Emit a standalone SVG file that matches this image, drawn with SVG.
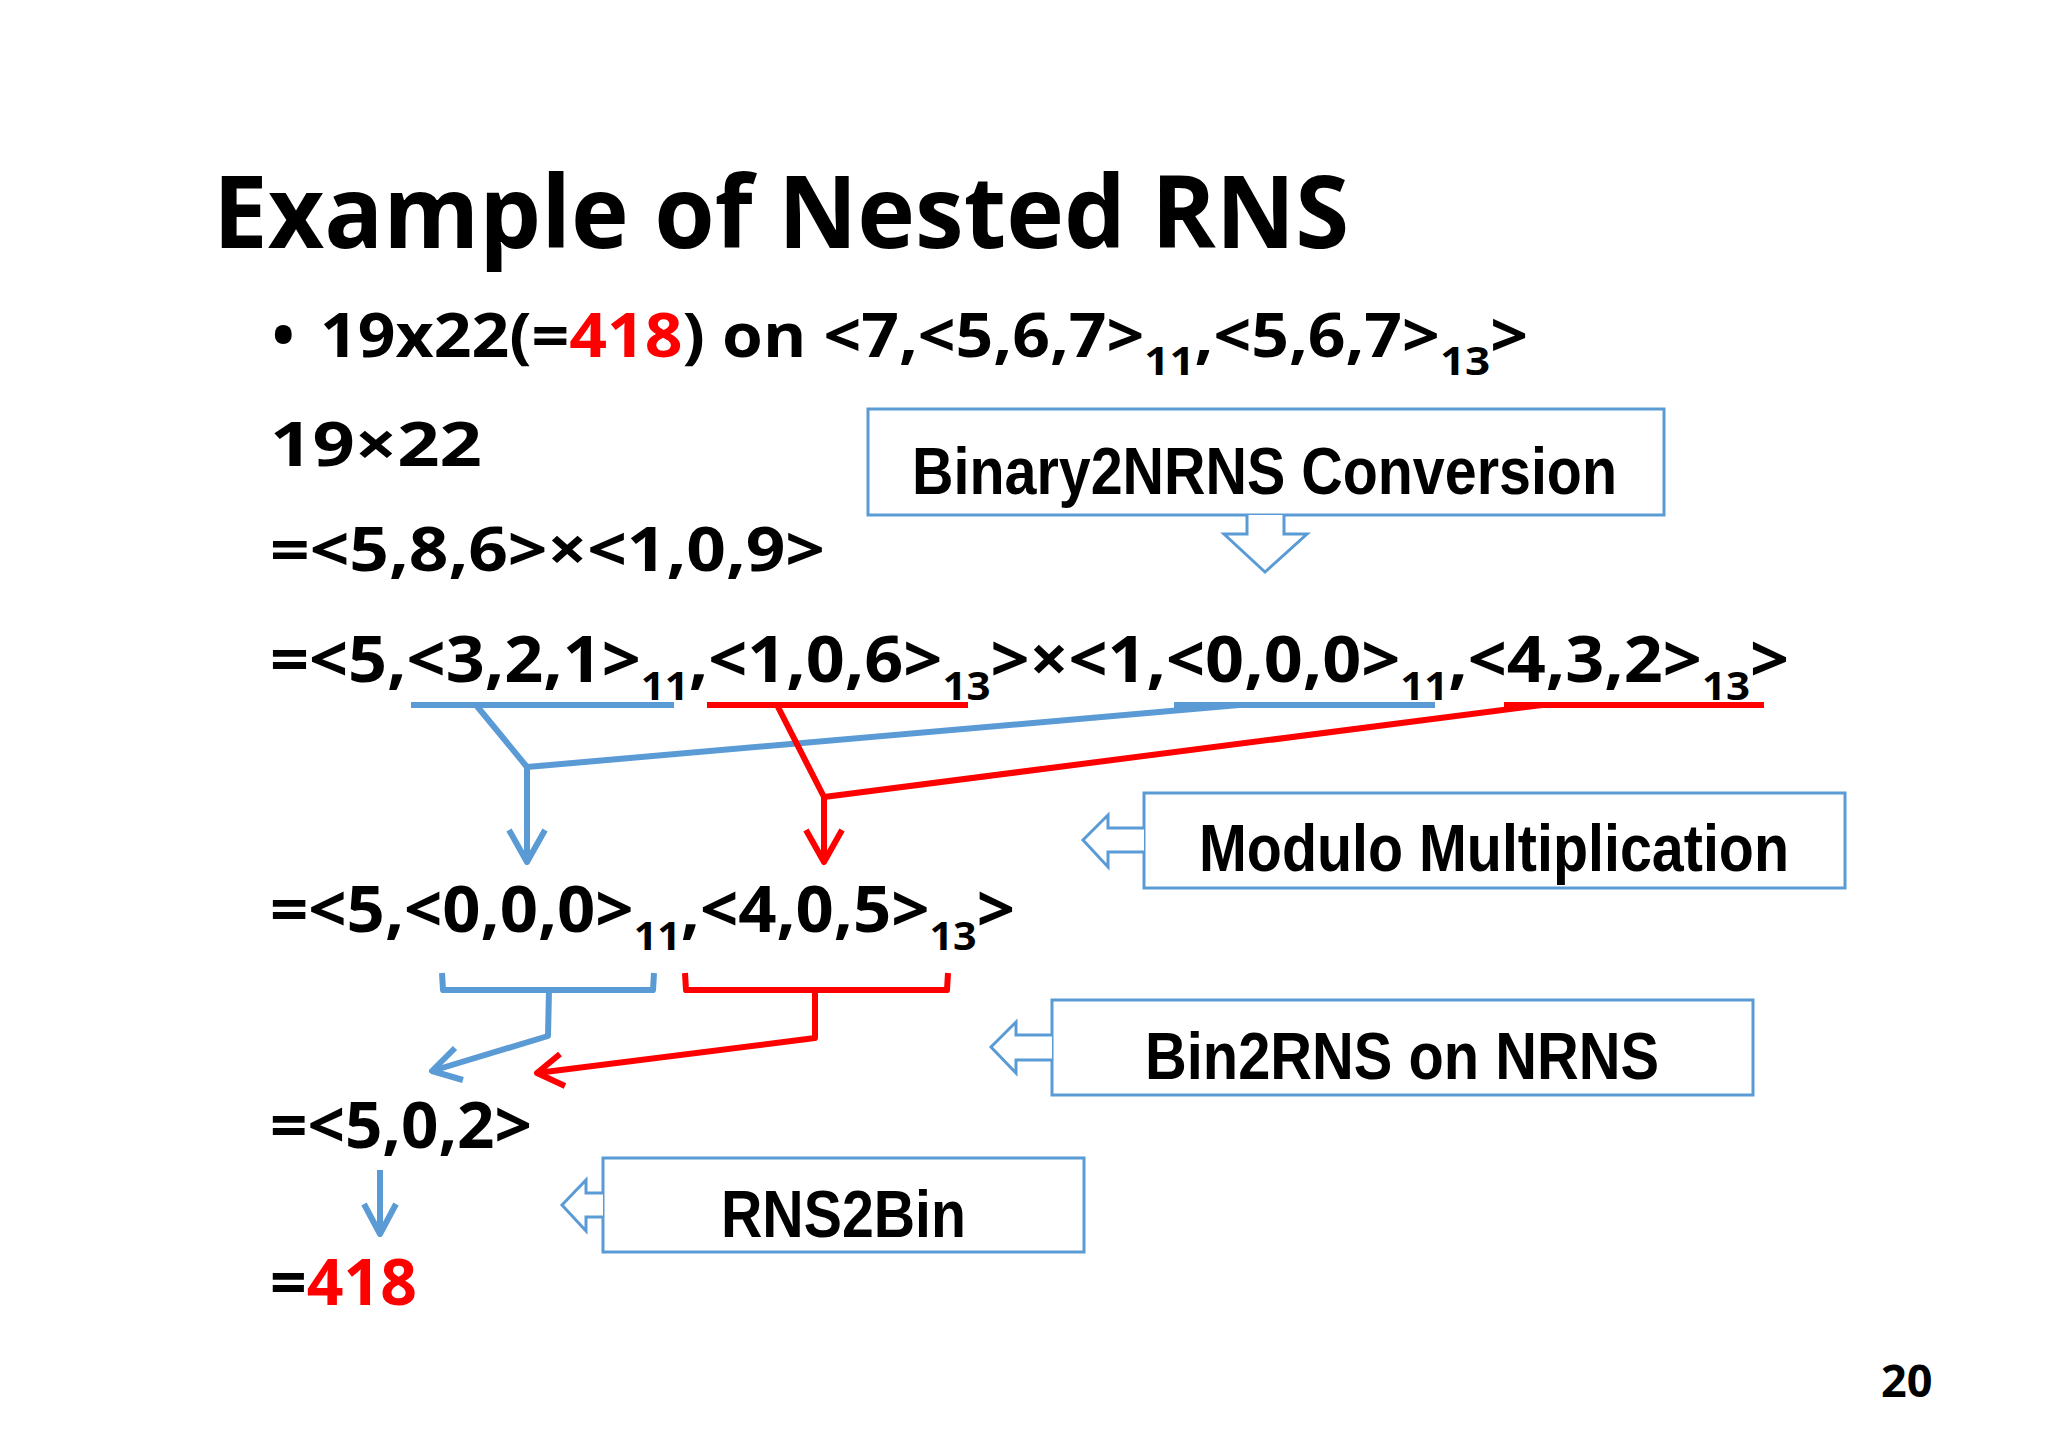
<svg xmlns="http://www.w3.org/2000/svg" width="2048" height="1448" viewBox="0 0 2048 1448">
<style>
.t{font-family:"Open Sans","Liberation Sans",sans-serif;font-weight:bold;fill:#000}
.r{fill:#ff0000}
.s{font-size:40px}
.bx{fill:#fff;stroke:#5b9bd5;stroke-width:3}
.bt{font-family:"Liberation Sans",sans-serif;font-weight:bold;font-size:66px;fill:#000}
.b{fill:none;stroke:#5b9bd5;stroke-width:6;stroke-linejoin:round}
.rd{fill:none;stroke:#ff0000;stroke-width:6;stroke-linejoin:round}
</style>
<rect width="2048" height="1448" fill="#fff"/>
<text class="t" x="213" y="248" font-size="100" textLength="1136" lengthAdjust="spacingAndGlyphs">Example of Nested RNS</text>
<text class="t" x="272" y="357" font-size="60">•</text>
<text class="t" x="320" y="357" font-size="60" textLength="1208" lengthAdjust="spacingAndGlyphs">19x22(=<tspan class="r">418</tspan>) on &lt;7,&lt;5,6,7&gt;<tspan class="s" dy="18">11</tspan><tspan dy="-18">,&lt;5,6,7&gt;</tspan><tspan class="s" dy="18">13</tspan><tspan dy="-18">&gt;</tspan></text>
<text class="t" x="270" y="466" font-size="60" textLength="212" lengthAdjust="spacingAndGlyphs">19×22</text>
<text class="t" x="270" y="571" font-size="60" textLength="555" lengthAdjust="spacingAndGlyphs">=&lt;5,8,6&gt;×&lt;1,0,9&gt;</text>
<text class="t" x="270" y="682" font-size="65" textLength="1519" lengthAdjust="spacingAndGlyphs">=&lt;5,&lt;3,2,1&gt;<tspan class="s" dy="18">11</tspan><tspan dy="-18">,&lt;1,0,6&gt;</tspan><tspan class="s" dy="18">13</tspan><tspan dy="-18">&gt;×&lt;1,&lt;0,0,0&gt;</tspan><tspan class="s" dy="18">11</tspan><tspan dy="-18">,&lt;4,3,2&gt;</tspan><tspan class="s" dy="18">13</tspan><tspan dy="-18">&gt;</tspan></text>
<text class="t" x="270" y="932" font-size="65" textLength="745" lengthAdjust="spacingAndGlyphs">=&lt;5,&lt;0,0,0&gt;<tspan class="s" dy="18">11</tspan><tspan dy="-18">,&lt;4,0,5&gt;</tspan><tspan class="s" dy="18">13</tspan><tspan dy="-18">&gt;</tspan></text>
<text class="t" x="270" y="1148" font-size="65" textLength="262" lengthAdjust="spacingAndGlyphs">=&lt;5,0,2&gt;</text>
<text class="t" x="270" y="1305" font-size="65" textLength="147" lengthAdjust="spacingAndGlyphs">=<tspan class="r">418</tspan></text>
<text class="t" x="1881" y="1397" font-size="45">20</text>

<g id="box-binary2nrns">
<rect class="bx" x="868" y="409" width="796" height="106"/>
<text class="bt" x="912" y="494" textLength="705" lengthAdjust="spacingAndGlyphs">Binary2NRNS Conversion</text>
<path class="bx" d="M1247,515 L1247,534 L1224,534 L1265,572 L1307,534 L1284,534 L1284,515"/>
</g>
<g id="box-modulo">
<rect class="bx" x="1144" y="793" width="701" height="95"/>
<text class="bt" x="1199" y="871" textLength="590" lengthAdjust="spacingAndGlyphs">Modulo Multiplication</text>
<path class="bx" d="M1144,828 L1108,828 L1108,815 L1083,840 L1108,867 L1108,852 L1144,852"/>
</g>
<g id="box-bin2rns">
<rect class="bx" x="1052" y="1000" width="701" height="95"/>
<text class="bt" x="1145" y="1079" textLength="514" lengthAdjust="spacingAndGlyphs">Bin2RNS on NRNS</text>
<path class="bx" d="M1052,1035 L1016,1035 L1016,1022 L991,1047 L1016,1073 L1016,1060 L1052,1060"/>
</g>
<g id="box-rns2bin">
<rect class="bx" x="603" y="1158" width="481" height="94"/>
<text class="bt" x="721" y="1237" textLength="245" lengthAdjust="spacingAndGlyphs">RNS2Bin</text>
<path class="bx" d="M603,1193 L586,1193 L586,1180 L562,1205 L586,1231 L586,1217 L603,1217"/>
</g>

<g id="connectors">
<line class="b" x1="411" y1="705" x2="674" y2="705"/>
<line class="b" x1="1174" y1="705" x2="1435" y2="705"/>
<line class="rd" x1="707" y1="705" x2="968" y2="705"/>
<line class="rd" x1="1504" y1="705" x2="1764" y2="705"/>
<polyline class="b" points="476,705 527,767 1239,705"/>
<line class="b" x1="527" y1="767" x2="527" y2="862"/>
<polyline class="b" points="509,830 527,862 545,830"/>
<polyline class="rd" points="777,705 824,797 1542,705"/>
<line class="rd" x1="824" y1="797" x2="824" y2="862"/>
<polyline class="rd" points="806,830 824,862 842,830"/>
<polyline class="b" points="442,973 443,990 653,990 654,973"/>
<polyline class="b" points="549,990 548,1036 432,1071"/>
<polyline class="b" points="455,1048 432,1071 463,1080"/>
<polyline class="rd" points="685,973 686,990 947,990 948,973"/>
<polyline class="rd" points="815,990 815,1038 537,1073"/>
<polyline class="rd" points="560,1054 537,1073 565,1086"/>
<line class="b" x1="380" y1="1170" x2="380" y2="1234"/>
<polyline class="b" points="364,1204 380,1234 396,1204"/>
</g>
</svg>
